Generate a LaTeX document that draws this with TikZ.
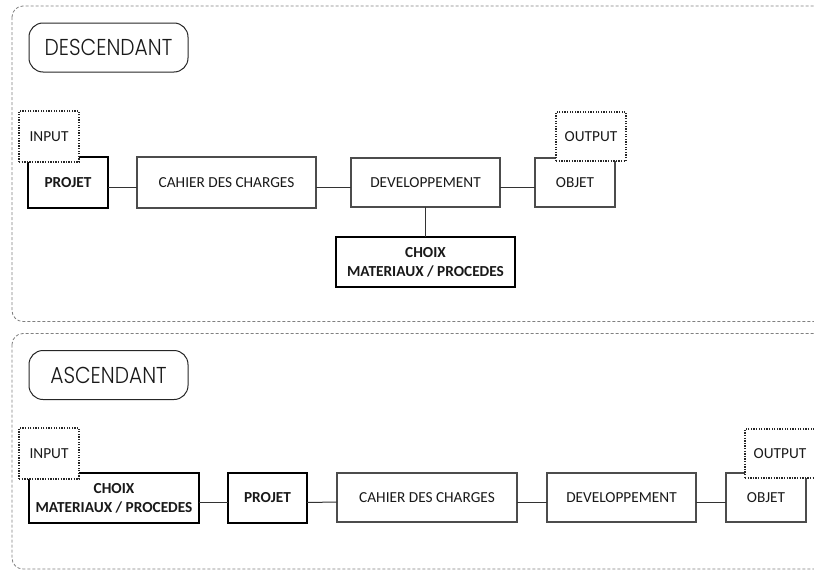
\documentclass[tikz,border=0pt]{standalone}
\usepackage{fontspec}
\setmainfont{Carlito}
\newfontfamily\titlefont{Poppins}[UprightFont={* Light}]
\newcommand{\ttlbox}[1]{\scalebox{0.88}[1]{#1}}
\begin{document}
\begin{tikzpicture}[x=1pt,y=-1pt,
  every node/.style={inner sep=0pt,outer sep=0pt,text=black!90,font=\fontsize{15.3}{19}\selectfont,align=center},
  box/.style={draw=black!70,line width=1.1pt,fill=white},
  thickbox/.style={draw=black,line width=2pt,fill=white,font=\fontsize{15.3}{19}\selectfont\bfseries},
  iobox/.style={draw=black!85,line width=1.1pt,dash pattern=on 1.3pt off 1.3pt,fill=white,minimum width=60pt,minimum height=51pt},
  titlebox/.style={draw=black!85,line width=1pt,rounded corners=14pt,minimum width=159pt,minimum height=49pt,font=\titlefont\fontsize{23}{26}\selectfont},
  container/.style={draw=black!50,line width=0.8pt,dash pattern=on 3pt off 2pt,rounded corners=11pt},
  link/.style={draw=black!80,line width=1pt}]
\useasboundingbox (0,0) rectangle (814,570);
% containers
\draw[container] (12,6) rectangle (840,321.5);
\draw[container] (12,333.5) rectangle (840,569);
% ---- DESCENDANT
\node[titlebox] (desc) at (108.5,47.5) {\ttlbox{DESCENDANT}};
\node[thickbox,minimum width=80pt,minimum height=51pt] (proj1) at (68,182.5) {PROJET};
\node[box,minimum width=179pt,minimum height=51pt] (cdc1) at (226.5,182.5) {CAHIER DES CHARGES};
\node[box,minimum width=149pt,minimum height=49pt] (dev1) at (425.5,182.5) {DEVELOPPEMENT};
\node[box,minimum width=80pt,minimum height=49pt] (obj1) at (575,182.5) {OBJET};
\node[thickbox,minimum width=179pt,minimum height=50pt] (choix1) at (425.5,262) {CHOIX\\MATERIAUX / PROCEDES};
\node[iobox] (in1) at (49,136.5) {INPUT};
\node[iobox,minimum width=70pt,minimum height=49pt] (out1) at (591,136.5) {OUTPUT};
\draw[link] ([yshift=-4.5pt]proj1.east) -- ([yshift=-4.5pt]cdc1.west);
\draw[link] ([yshift=-4.5pt]cdc1.east) -- ([yshift=-4.5pt]dev1.west);
\draw[link] ([yshift=-4.5pt]dev1.east) -- ([yshift=-4.5pt]obj1.west);
\draw[link] (dev1.south) -- (choix1.north);
% ---- ASCENDANT
\node[titlebox] (asc) at (108.5,375) {\ttlbox{ASCENDANT}};
\node[thickbox,minimum width=170pt,minimum height=50pt] (choix2) at (114,498) {CHOIX\\MATERIAUX / PROCEDES};
\node[thickbox,minimum width=79pt,minimum height=50pt] (proj2) at (267.5,498) {PROJET};
\node[box,minimum width=180pt,minimum height=49pt] (cdc2) at (427,497.5) {CAHIER DES CHARGES};
\node[box,minimum width=149pt,minimum height=49pt] (dev2) at (621.5,497.5) {DEVELOPPEMENT};
\node[box,minimum width=80pt,minimum height=49pt] (obj2) at (766,497.5) {OBJET};
\node[iobox] (in2) at (49,453.5) {INPUT};
\node[iobox,minimum width=70pt,minimum height=49pt] (out2) at (780,453.5) {OUTPUT};
\draw[link] ([yshift=-4.5pt]choix2.east) -- ([yshift=-4.5pt]proj2.west);
\draw[link] ([yshift=-4.5pt]proj2.east) -- ([yshift=-4.5pt]cdc2.west);
\draw[link] ([yshift=-4.5pt]cdc2.east) -- ([yshift=-4.5pt]dev2.west);
\draw[link] ([yshift=-4.5pt]dev2.east) -- ([yshift=-4.5pt]obj2.west);
\end{tikzpicture}
\end{document}
